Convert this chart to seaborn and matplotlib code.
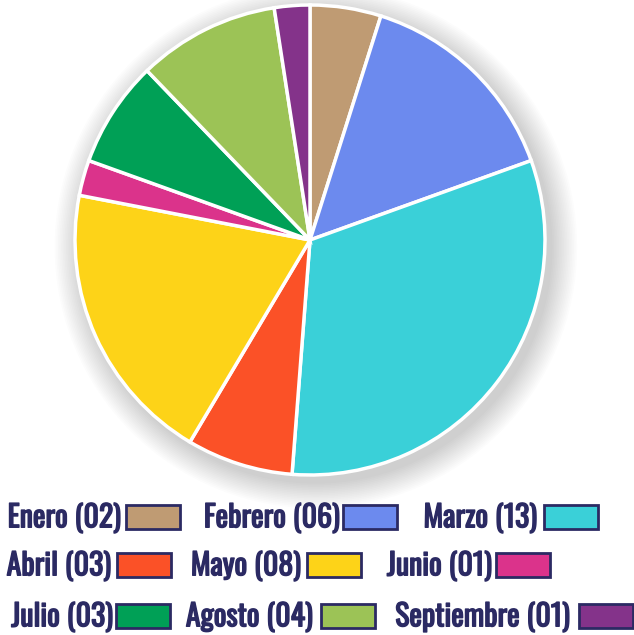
import matplotlib.pyplot as plt
import matplotlib.patheffects as pe
from matplotlib.patches import Rectangle, Circle
import seaborn as sns

months = ["Enero", "Febrero", "Marzo", "Abril", "Mayo", "Junio",
          "Julio", "Agosto", "Septiembre"]
counts = [2, 6, 13, 3, 8, 1, 3, 4, 1]
colors = ["#BF9B73", "#6C8AEE", "#3AD0D8", "#FB5127", "#FDD318",
          "#DB338B", "#00A056", "#9CC356", "#84338A"]

# legend layout (pixels): text right edge, box left x, row center y
text_x = [121, 340, 537, 111, 301, 492, 113, 313, 570]
box_x = [126, 343, 544, 117, 307, 496, 116, 321, 579]
row_y = [517, 517, 517, 565, 565, 565, 616, 616, 616]

W, H = 634, 635
navy = "#2B2A63"

sns.set_theme(style="white")
plt.rcParams["font.family"] = ["Oswald", "Barlow Condensed", "DejaVu Sans"]

fig = plt.figure(figsize=(W / 100, H / 100), dpi=100)
fig.patch.set_facecolor("white")

ax = fig.add_axes([75 / W, (H - 475) / H, 470 / W, 470 / H])
ax.set_aspect("equal")

# soft shadow behind the pie
for i in range(16):
    r = 1.0 + 0.007 * (16 - i)
    ax.add_patch(Circle((0.025, -0.03), r, color="#000000", alpha=0.012,
                        lw=0, zorder=0, clip_on=False))

ax.pie(counts, colors=colors, startangle=90, counterclock=False,
       wedgeprops={"edgecolor": "white", "linewidth": 2.5},
       radius=1.0)
ax.set_xlim(-1.0, 1.0)
ax.set_ylim(-1.0, 1.0)
ax.axis("off")

bold = [pe.withStroke(linewidth=1.0, foreground=navy)]
for m, c, col, tx, bx, by in zip(months, counts, colors, text_x, box_x, row_y):
    fig.text(tx / W, 1 - (by + 1) / H, f"{m} ({c:02d})", ha="right",
             va="center", fontsize=21.5, color=navy, path_effects=bold)
    fig.add_artist(Rectangle((bx / W, 1 - (by + 12) / H), 54 / W, 24 / H,
                             facecolor=col, edgecolor=navy, linewidth=2,
                             transform=fig.transFigure))

fig.savefig("out.png", dpi=100)
